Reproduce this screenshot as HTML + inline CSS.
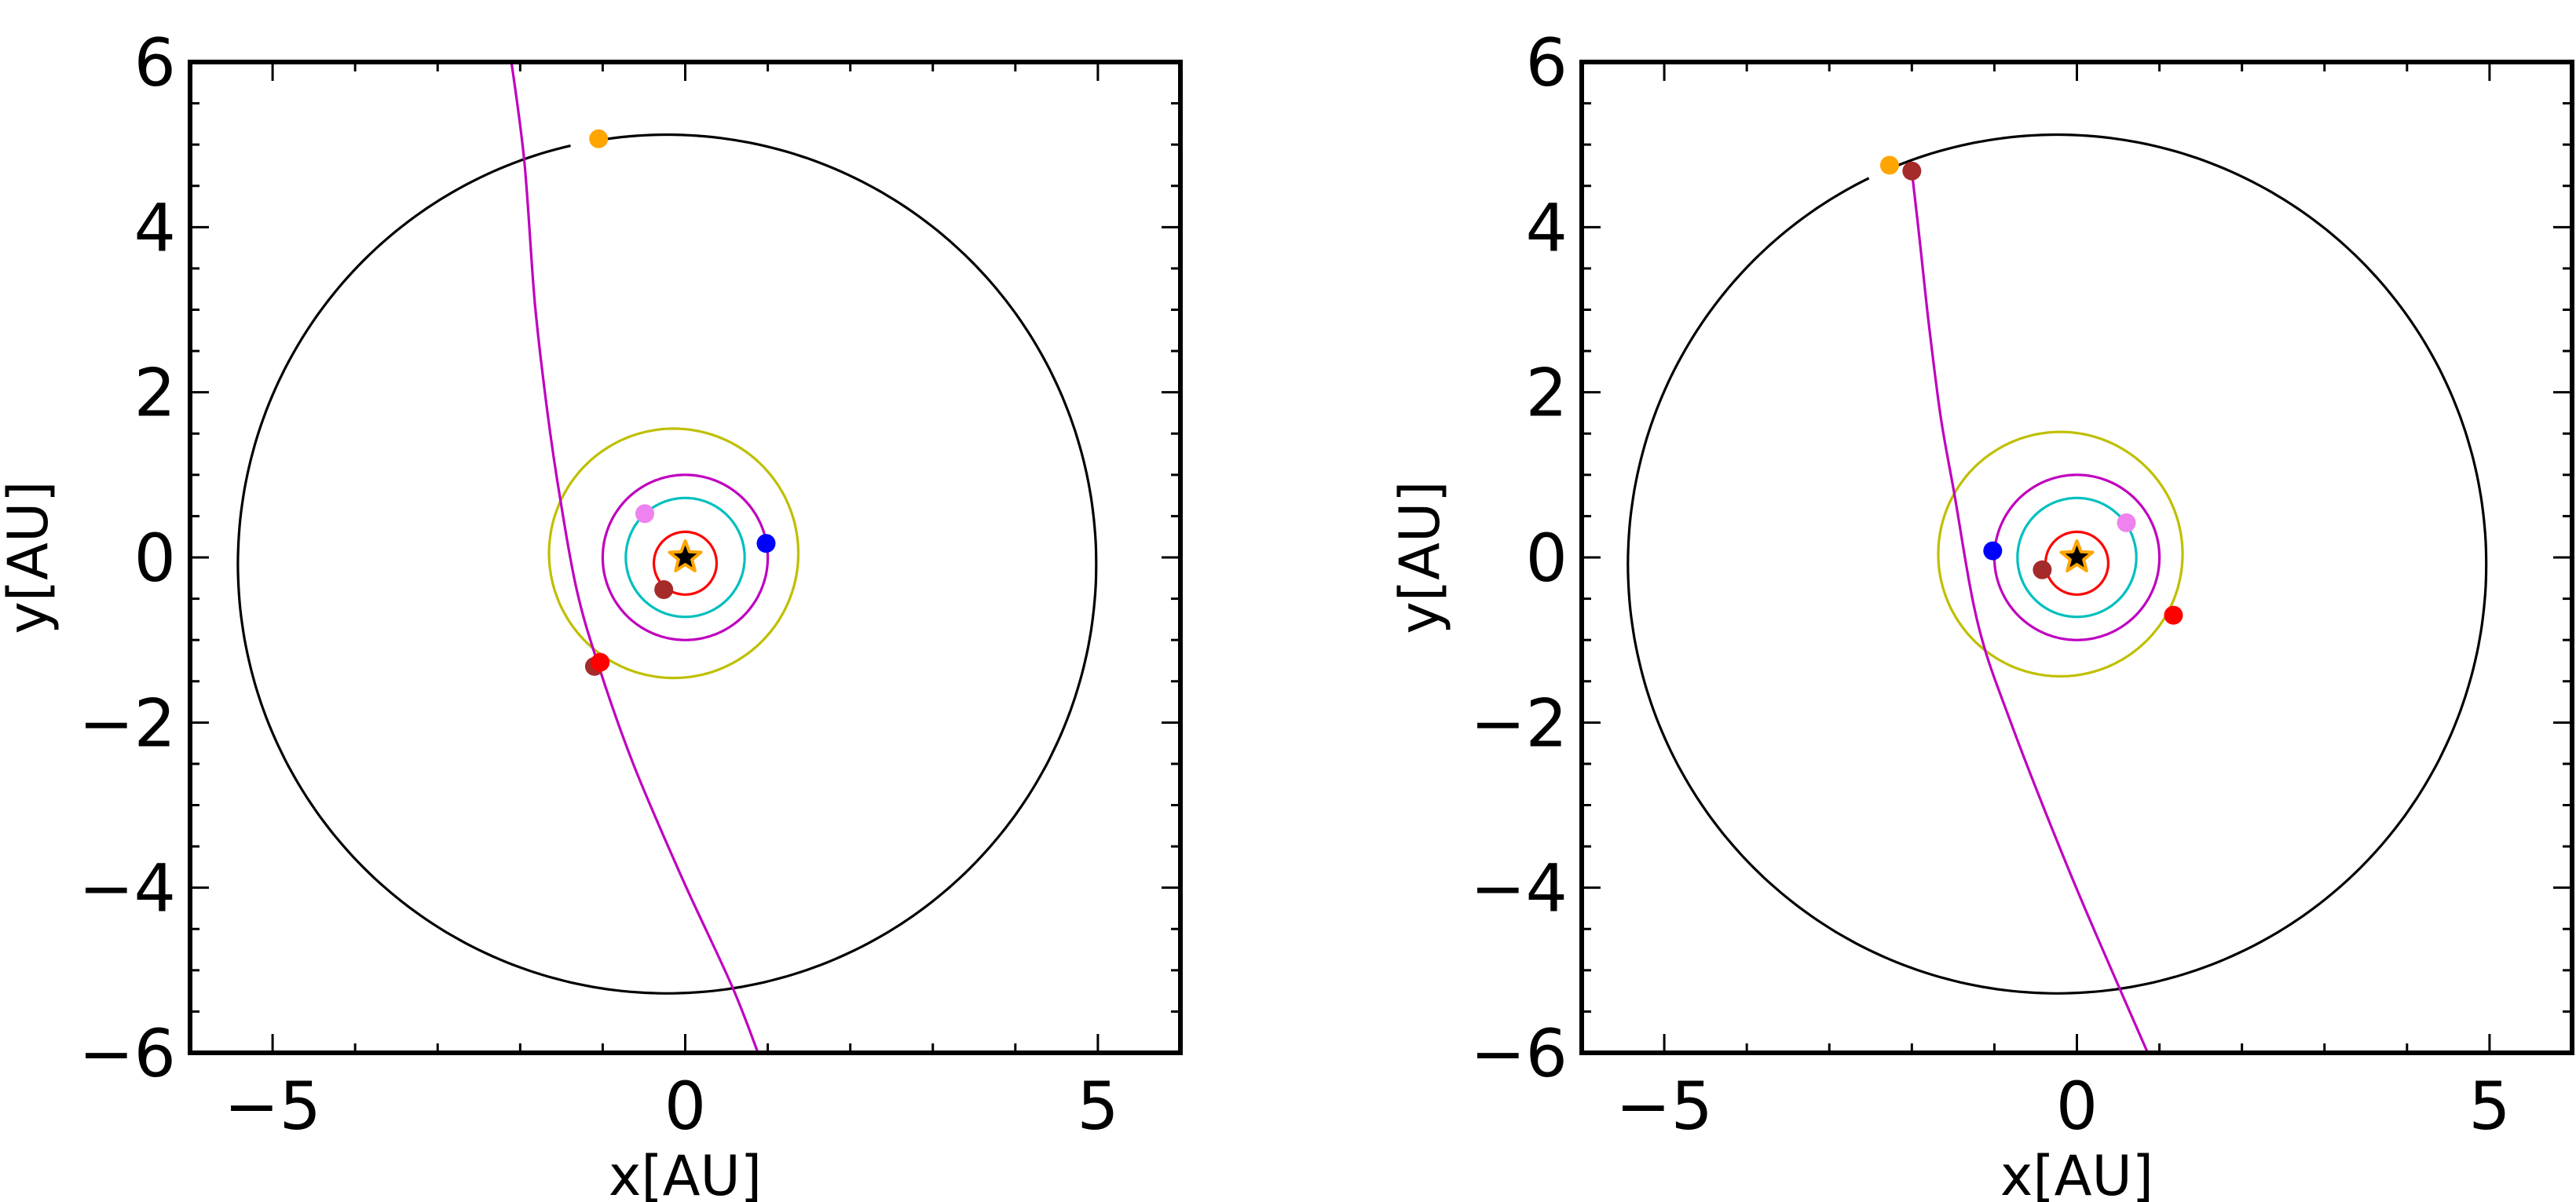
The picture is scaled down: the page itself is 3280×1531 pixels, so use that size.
<!DOCTYPE html>
<html><head><meta charset="utf-8"><style>
html,body{margin:0;padding:0;background:#fff;}
svg{display:block;font-family:"DejaVu Sans","Liberation Sans",sans-serif;}
</style></head><body>
<svg id="fig" width="3280" height="1531" viewBox="0 0 3280 1531" xmlns="http://www.w3.org/2000/svg"></svg>
<script>
// ---- data ----
const xTicksMajor = [-5, 0, 5];
const xTickLabels = ["\u22125", "0", "5"];
const yTicksMajor = [-6, -4, -2, 0, 2, 4, 6];
const yTickLabels = ["\u22126", "\u22124", "\u22122", "0", "2", "4", "6"];
const orbitColors = ["black", "#bfbf00", "#bf00bf", "#00bfbf", "red"];
const orbitNames = ["outer-orbit", "yellow-orbit", "magenta-orbit", "cyan-orbit", "red-orbit"];
const leftOrbitCx = [-0.22, -0.14, 0, 0, 0];
const leftOrbitCy = [-0.08, 0.05, 0, 0, -0.07];
const leftOrbitR = [5.2, 1.51, 1.0, 0.72, 0.38];
const rightOrbitCx = [-0.24, -0.2, 0, 0, 0];
const rightOrbitCy = [-0.08, 0.04, 0, 0, -0.07];
const rightOrbitR = [5.2, 1.48, 1.0, 0.72, 0.38];
const leftGap = [99, 103];
const rightGap = [113, 116];
const planetColors = ["#ffa500", "#a52a2a", "red", "blue", "violet", "#a52a2a"];
const leftPlanetX = [-1.05, -1.1, -1.03, 0.98, -0.49, -0.26];
const leftPlanetY = [5.07, -1.32, -1.27, 0.17, 0.53, -0.39];
const rightPlanetX = [-2.27, -2.0, 1.17, -1.02, 0.6, -0.42];
const rightPlanetY = [4.75, 4.68, -0.7, 0.08, 0.42, -0.15];
const leftCometX = [-2.12, -1.95, -1.82, -1.67, -1.52, -1.32, -1.07, -0.63, -0.03, 0.57, 0.9];
const leftCometY = [6.1, 4.8, 3.06, 1.76, 0.74, -0.37, -1.25, -2.5, -3.9, -5.2, -6.05];
const rightCometX = [-2.0, -1.9, -1.79, -1.65, -1.49, -1.2, -0.8, -0.1, 0.5, 0.88];
const rightCometY = [4.68, 3.8, 2.79, 1.7, 0.8, -0.8, -2.0, -3.78, -5.18, -6.05];

const NS = "http://www.w3.org/2000/svg";
const svg = document.getElementById("fig");
function el(tag, attrs, parent){const e=document.createElementNS(NS,tag);for(const k in attrs)e.setAttribute(k,attrs[k]);(parent||svg).appendChild(e);return e;}

const TOP = 79, H = 1262, W = 1261;
function smoothPath(P){
  let d = "M" + P[0][0].toFixed(1) + "," + P[0][1].toFixed(1);
  for (let i=0;i<P.length-1;i++){
    const p0=P[Math.max(0,i-1)], p1=P[i], p2=P[i+1], p3=P[Math.min(P.length-1,i+2)];
    const c1=[p1[0]+(p2[0]-p0[0])/6, p1[1]+(p2[1]-p0[1])/6];
    const c2=[p2[0]-(p3[0]-p1[0])/6, p2[1]-(p3[1]-p1[1])/6];
    d += "C"+c1[0].toFixed(1)+","+c1[1].toFixed(1)+" "+c2[0].toFixed(1)+","+c2[1].toFixed(1)+" "+p2[0].toFixed(1)+","+p2[1].toFixed(1);
  }
  return d;
}
function panel(x0, side, ocx, ocy, orr, gap, px, py, cx, cy){
  const u = W/12;
  const X = v => x0 + (v+6)*u;
  const Y = v => TOP + (6-v)*(H/12);
  const g = el("g", {});
  
  
  const clipId = "clip-"+side;
  const cp = el("clipPath", {id: clipId}, g);
  el("rect", {x: x0, y: TOP, width: W, height: H}, cp);
  const plot = el("g", {"clip-path": "url(#"+clipId+")"}, g);
  for (let i=0;i<ocx.length;i++){
    let a0 = 0, a1 = 360;
    if (i===0){ a0 = gap[1]; a1 = gap[0]+360; }
    let d = "";
    for (let a=a0; a<=a1+0.01; a+=1){
      const t=a*Math.PI/180;
      d += (a===a0?"M":"L") + X(ocx[i]+orr[i]*Math.cos(t)).toFixed(1)+","+Y(ocy[i]+orr[i]*Math.sin(t)).toFixed(1);
    }
    const p = el("path", {d: d, fill: "none", stroke: orbitColors[i], "stroke-width": 3.2}, plot);
    
    
  }
  const pts = [];
  for (let i=0;i<cx.length;i++) pts.push([X(cx[i]), Y(cy[i])]);
  const c = el("path", {d: smoothPath(pts), fill: "none", stroke: "#bf00bf", "stroke-width": 3.2}, plot);
  
  
  for (let i=0;i<px.length;i++){
    const ci = el("circle", {cx: X(px[i]), cy: Y(py[i]), r: 12, fill: planetColors[i]}, plot);
    
    
  }
  const sx = X(0), sy = Y(0);
  function starPts(R, r){let s="";for(let k=0;k<10;k++){const rr=k%2?r:R;const t=-Math.PI/2+k*Math.PI/5;s+=(sx+rr*Math.cos(t)).toFixed(1)+","+(sy+rr*Math.sin(t)).toFixed(1)+" ";}return s;}
  const st = el("polygon", {points: starPts(21, 9), fill: "black", stroke: "#ffa500", "stroke-width": 4, "stroke-linejoin": "round"}, plot);
  
  
  const tg = el("g", {stroke: "black", "stroke-width": 3}, g);
  for (let v=-6; v<=6; v+=1){
    const L = (v%5===0)?24:12;
    el("line", {x1: X(v), x2: X(v), y1: TOP+H, y2: TOP+H-L}, tg);
    el("line", {x1: X(v), x2: X(v), y1: TOP, y2: TOP+L}, tg);
  }
  for (let v=-6; v<=6; v+=0.5){
    const L = (Math.abs(v%2)<1e-9)?24:12;
    el("line", {x1: x0, x2: x0+L, y1: Y(v), y2: Y(v)}, tg);
    el("line", {x1: x0+W, x2: x0+W-L, y1: Y(v), y2: Y(v)}, tg);
  }
  const fr = el("rect", {x: x0, y: TOP, width: W, height: H, fill: "none", stroke: "black", "stroke-width": 6}, g);
  
  
  for (let i=0;i<xTicksMajor.length;i++){
    const t = el("text", {x: X(xTicksMajor[i]), y: 1438, "font-size": 84, "text-anchor": "middle"}, g);
    t.textContent = xTickLabels[i];
    
    
  }
  for (let i=0;i<yTicksMajor.length;i++){
    const t = el("text", {x: x0-18, y: Y(yTicksMajor[i])+30, "font-size": 84, "text-anchor": "end"}, g);
    t.textContent = yTickLabels[i];
    
    
  }
  const xl = el("text", {x: X(0), y: 1522, "font-size": 70, "text-anchor": "middle"}, g);
  xl.textContent = "x[AU]";
  
  
  const yl = el("text", {x: 0, y: 0, "font-size": 70, "text-anchor": "middle", transform: "translate("+(x0-182)+","+(TOP+H/2)+") rotate(-90)"}, g);
  yl.textContent = "y[AU]";
  
  
}
panel(242, "left", leftOrbitCx, leftOrbitCy, leftOrbitR, leftGap, leftPlanetX, leftPlanetY, leftCometX, leftCometY);
panel(2014, "right", rightOrbitCx, rightOrbitCy, rightOrbitR, rightGap, rightPlanetX, rightPlanetY, rightCometX, rightCometY);
</script>
</body></html>
